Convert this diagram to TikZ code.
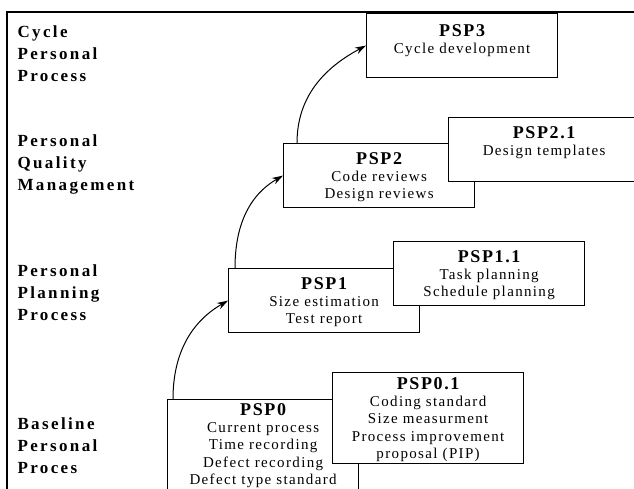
\documentclass[tikz,border=0pt]{standalone}
\usepackage{fontspec}
\setmainfont{Liberation Serif}
\usetikzlibrary{arrows.meta}

\newcommand{\psptitle}[1]{{\fontsize{18}{18}\selectfont\bfseries #1}}

\begin{document}
\begin{tikzpicture}[x=1pt,y=-1pt,>={Stealth[length=11pt,width=7pt]},line width=1pt]
\tikzset{box/.style = {draw, fill=white, line width=1.2pt, minimum width=191pt, minimum height=64pt, inner sep=0pt, anchor=north west}}
\tikzset{boxtext/.style = {anchor=north, inner sep=0pt, align=center, font=\fontsize{15}{17.2}\selectfont\addfontfeature{LetterSpace=9}}}
\tikzset{level/.style = {anchor=north west, inner sep=0pt, align=left, font=\bfseries\fontsize{17}{22}\selectfont\addfontfeature{LetterSpace=14}}}

\useasboundingbox (0,0) rectangle (634,489);
\clip (0,0) rectangle (634,489);

%frame
\draw[line width=2pt] (7,520) -- (7,12) -- (660,12);

%levels
\node[level] (cyc) at (17,25) {Cycle\\Personal\\Process};
\node[level] (qual) at (17,134) {Personal\\Quality\\Management};
\node[level] (plan) at (17,264) {Personal\\Planning\\Process};
\node[level] (base) at (17,417) {Baseline\\Personal\\Proces};

%boxes
\node[box, minimum height=110pt] (psp0) at (167,399) {};
\node[boxtext, yshift=-4pt] (psp0txt) at (psp0.north) {\psptitle{PSP0}\\Current process\\Time recording\\Defect recording\\Defect type standard};
\node[box, minimum height=91pt] (psp01) at (332,372) {};
\node[boxtext, yshift=-5pt] (psp01txt) at (psp01.north) {\psptitle{PSP0.1}\\Coding standard\\Size measurment\\Process improvement\\proposal (PIP)};

\node[box] (psp1) at (228,268) {};
\node[boxtext, yshift=-9pt] (psp1txt) at (psp1.north) {\psptitle{PSP1}\\Size estimation\\Test report};
\node[box] (psp11) at (393,241) {};
\node[boxtext, yshift=-9pt] (psp11txt) at (psp11.north) {\psptitle{PSP1.1}\\Task planning\\Schedule planning};

\node[box] (psp2) at (283,143) {};
\node[boxtext, yshift=-9pt] (psp2txt) at (psp2.north) {\psptitle{PSP2}\\Code reviews\\Design reviews};
\node[box] (psp21) at (448,117) {};
\node[boxtext, yshift=-9pt] (psp21txt) at (psp21.north) {\psptitle{PSP2.1}\\Design templates};

\node[box] (psp3) at (366,13) {};
\node[boxtext, yshift=-11pt] (psp3txt) at (psp3.north) {\psptitle{PSP3}\\Cycle development};

%steps
\draw[->] ([xshift=6pt]psp0.north west) to[out=90,in=210] (psp1.west);
\draw[->] ([xshift=7pt]psp1.north west) to[out=90,in=210] (psp2.west);
\draw[->] ([xshift=14pt]psp2.north west) to[out=90,in=208] (psp3.west);

\end{tikzpicture}
\end{document}
